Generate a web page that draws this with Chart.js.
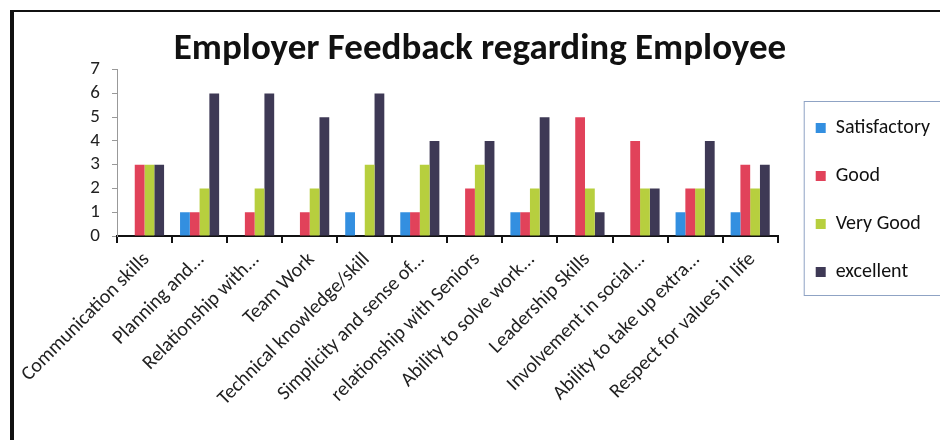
<!DOCTYPE html>
<html>
<head>
<meta charset="utf-8">
<script src="https://cdn.jsdelivr.net/npm/chart.js@4.4.1/dist/chart.umd.min.js"></script>
<style>
  html, body { margin: 0; padding: 0; background: #fff; }
  #box { width: 940px; height: 440px; }
</style>
</head>
<body>
<div id="box"><canvas id="feedbackChart" width="940" height="440"></canvas></div>
<script>
// values
const categories = [
    'Communication skills', 'Planning and...', 'Relationship with...', 'Team Work',
    'Technical knowledge/skill', 'Simplicity and sense of...', 'relationship with Seniors',
    'Ability to solve work...', 'Leadership Skills', 'Involvement in social...',
    'Ability to take up extra...', 'Respect for values in life'
];
const satisfactory = [0, 1, 0, 0, 1, 1, 0, 1, 0, 0, 1, 1];
const good         = [3, 1, 1, 1, 0, 1, 2, 1, 5, 4, 2, 3];
const veryGood     = [3, 2, 2, 2, 3, 3, 3, 2, 2, 2, 2, 2];
const excellent    = [3, 6, 6, 5, 6, 4, 4, 5, 1, 2, 4, 3];
const yMin = 0, yMax = 7, yStep = 1;

const FONT = 'Carlito, Lato, sans-serif';

// white page, black frame and a box round the legend
const framePlugin = {
    id: 'frame',
    beforeDraw(chart) {
        const ctx = chart.ctx;
        ctx.save();
        ctx.fillStyle = '#fff';
        ctx.fillRect(0, 0, chart.width, chart.height);
        ctx.fillStyle = '#111';
        ctx.fillRect(10, 10, chart.width - 10, 2);
        ctx.fillRect(10, 10, 4, chart.height - 10);
        ctx.restore();
    },
    afterDraw(chart) {
        const lg = chart.legend;
        if (!lg || !lg.legendHitBoxes.length) return;
        const hb = lg.legendHitBoxes;
        const first = hb[0], last = hb[hb.length - 1];
        const ctx = chart.ctx;
        ctx.save();
        ctx.strokeStyle = '#8fa3c4';
        ctx.lineWidth = 1;
        ctx.strokeRect(first.left - 11.5, first.top - 16.5, chart.width, last.top + last.height - first.top + 30);
        ctx.restore();
    }
};

new Chart(document.getElementById('feedbackChart'), {
    type: 'bar',
    data: {
        labels: categories,
        datasets: [
            { label: 'Satisfactory', data: satisfactory, backgroundColor: '#338fe0' },
            { label: 'Good', data: good, backgroundColor: '#e1425a' },
            { label: 'Very Good', data: veryGood, backgroundColor: '#b7cf3e' },
            { label: 'excellent', data: excellent, backgroundColor: '#3e3955' }
        ]
    },
    options: {
        responsive: false,
        animation: false,
        devicePixelRatio: 1,
        layout: { padding: { top: 12, left: 20, right: 0, bottom: 0 } },
        datasets: { bar: { barPercentage: 1, categoryPercentage: 0.71 } },
        plugins: {
            title: {
                display: true,
                text: 'Employer Feedback regarding Employee',
                color: '#111',
                font: { family: FONT, size: 37, weight: 'bold', lineHeight: 1.1 },
                padding: { top: 17, bottom: 0 }
            },
            legend: {
                position: 'right',
                align: 'start',
                // empty legend title only pushes the items down to where they sit in the reference
                title: { display: true, text: '', font: { size: 12, lineHeight: 1 }, padding: { top: 0, bottom: 66 } },
                labels: {
                    color: '#111',
                    font: { family: FONT, size: 20 },
                    boxWidth: 10,
                    boxHeight: 10,
                    padding: 28
                }
            },
            tooltip: { enabled: false }
        },
        scales: {
            x: {
                grid: { drawOnChartArea: false, drawTicks: true, tickLength: 7, color: '#111', lineWidth: 2 },
                border: { color: '#111', width: 2 },
                ticks: {
                    color: '#222',
                    font: { family: FONT, size: 20 },
                    minRotation: 45,
                    maxRotation: 45,
                    autoSkip: false,
                    labelOffset: 2,
                    padding: 5
                },
                afterFit(scale) { scale.height = 204; }
            },
            y: {
                min: yMin,
                max: yMax,
                grid: { drawOnChartArea: false, drawTicks: true, tickLength: 5, color: '#999' },
                border: { color: '#999', width: 1 },
                ticks: {
                    stepSize: yStep,
                    autoSkip: false,
                    color: '#222',
                    font: { family: FONT, size: 19 },
                    padding: 12
                },
                afterFit(scale) { scale.width = 97; }
            },
            // empty right-hand scale: only keeps the gap between the plot and the legend box
            gap: {
                position: 'right',
                grid: { display: false },
                border: { display: false },
                ticks: { display: false },
                afterFit(scale) { scale.width = 10; }
            }
        }
    },
    plugins: [framePlugin]
});
</script>
</body>
</html>
